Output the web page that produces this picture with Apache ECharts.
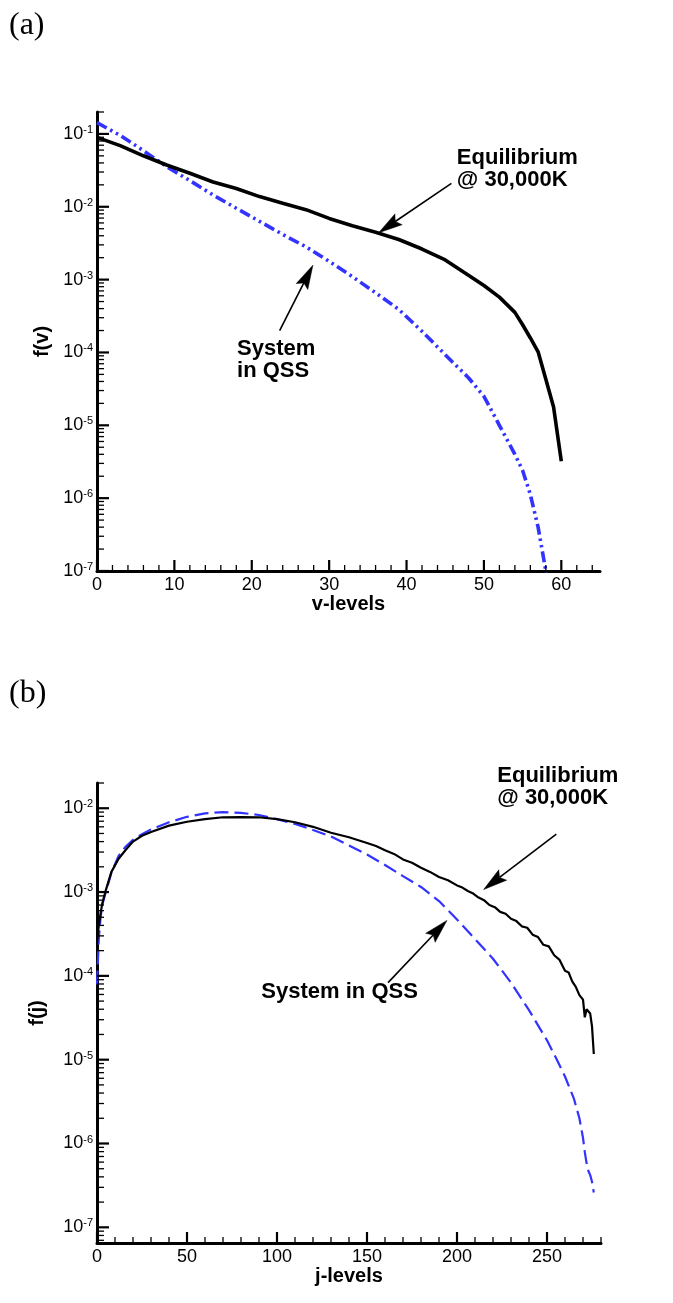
<!DOCTYPE html>
<html lang="en">
<head>
  <meta charset="UTF-8">
  <title>f(v) and f(j) distributions</title>
  <script src="https://cdn.jsdelivr.net/npm/echarts@6.0.0/dist/echarts.min.js"></script>
  <style type="text/css">
    html, body { margin: 0; padding: 0; background: #fff; }
    #main { width: 673px; height: 1303px; }
  </style>
</head>
<body>
  <div id="main"></div>

  <script type="text/javascript">
    // (a) vibrational levels
    var vLevels = [0, 3, 6, 9, 12, 15, 18, 21, 24, 27, 30, 33, 36, 39, 42, 45, 48, 50, 52, 54, 55, 56, 57, 58, 59, 60];
    var vEquil  = [0.0897, 0.0692, 0.0501, 0.0374, 0.0288, 0.0219, 0.0178, 0.0138, 0.0112, 0.00912, 0.00692, 0.0055, 0.00447,
                   0.00355, 0.00263, 0.00186, 0.00115, 8.3e-4, 5.75e-4, 3.55e-4, 2.4e-4, 1.58e-4, 1.02e-4, 4.3e-5, 1.78e-5, 3.2e-6];
    var vQSS    = [0.1426, 0.0955, 0.0589, 0.0355, 0.0229, 0.0145, 0.00955, 0.00631, 0.00417, 0.00282, 0.00178, 0.0011, 6.6e-4,
                   3.9e-4, 1.95e-4, 9.3e-5, 4.5e-5, 2.5e-5, 1.0e-5, 4.0e-6, 2.4e-6, 1.12e-6, 4.0e-7, 1.0e-7, 1.6e-8];

    // (b) rotational levels
    var jLevelsEq = [0, 1, 2, 3, 5, 8, 12, 16, 20, 25, 30, 40, 50, 60, 70, 80, 90, 100, 110, 120, 130, 140, 150, 155, 160, 165,
                     170, 175, 180, 185, 190, 195, 200, 203, 206, 209, 212, 215, 218, 221, 224, 227, 230, 233, 236, 239, 242,
                     245, 248, 251, 254, 257, 260, 262, 264, 266, 268, 270, 271, 272, 273, 274, 275, 276];
    var jEquil    = [2.4e-4, 4.0e-4, 5.6e-4, 7.4e-4, 1.07e-3, 1.74e-3, 2.5e-3, 3.2e-3, 4.0e-3, 4.7e-3, 5.2e-3, 6.2e-3, 6.9e-3,
                     7.4e-3, 7.8e-3, 7.85e-3, 7.8e-3, 7.4e-3, 6.8e-3, 6.0e-3, 5.1e-3, 4.5e-3, 3.85e-3, 3.55e-3, 3.15e-3, 2.85e-3,
                     2.45e-3, 2.24e-3, 1.95e-3, 1.74e-3, 1.51e-3, 1.38e-3, 1.2e-3, 1.13e-3, 1.03e-3, 9.6e-4, 8.6e-4, 8.0e-4,
                     7.0e-4, 6.6e-4, 5.8e-4, 5.5e-4, 4.8e-4, 4.5e-4, 3.9e-4, 3.75e-4, 3.1e-4, 2.9e-4, 2.35e-4, 2.25e-4, 1.76e-4,
                     1.55e-4, 1.15e-4, 1.1e-4, 8.6e-5, 7.4e-5, 5.9e-5, 5.2e-5, 3.2e-5, 4.0e-5, 3.8e-5, 3.55e-5, 2.5e-5, 1.17e-5];
    var jLevelsQSS = [0, 1, 2, 3, 5, 8, 12, 16, 20, 25, 30, 40, 50, 60, 70, 80, 90, 100, 110, 120, 130, 140, 150, 160, 170, 180,
                      190, 200, 210, 220, 230, 240, 250, 255, 260, 265, 268, 270, 271, 272, 273, 274, 275, 276];
    var jQSS       = [7.9e-5, 2.8e-4, 5.0e-4, 7.1e-4, 1.02e-3, 1.7e-3, 2.7e-3, 3.5e-3, 4.2e-3, 4.9e-3, 5.6e-3, 6.8e-3, 7.9e-3,
                      8.7e-3, 9.0e-3, 8.8e-3, 8.3e-3, 7.4e-3, 6.5e-3, 5.5e-3, 4.6e-3, 3.6e-3, 2.8e-3, 2.1e-3, 1.55e-3, 1.15e-3,
                      7.8e-4, 4.7e-4, 2.75e-4, 1.6e-4, 8.3e-5, 3.9e-5, 1.7e-5, 1.05e-5, 6.3e-6, 3.4e-6, 2.0e-6, 1.17e-6, 7.9e-7,
                      5.8e-7, 4.7e-7, 4.2e-7, 3.5e-7, 2.6e-7];

    // axis tick labels
    var vTickLabels = [0, 10, 20, 30, 40, 50, 60];
    var jTickLabels = [0, 50, 100, 150, 200, 250];

    // annotations (data coords)
    var notesA  = [['Equilibrium\n@ 30,000K', 46.5, 0.0332], ['System\nin QSS', 18.1, 7.8e-5]];
    var arrowsA = [[45.8, 0.0209, 36.4, 0.0044], [23.6, 2.0e-4, 27.9, 1.58e-3]];
    var notesB  = [['Equilibrium\n@ 30,000K', 222.4, 0.0178], ['System in QSS', 91.3, 6.5e-5]];
    var arrowsB = [[255.2, 4.92e-3, 214.8, 1.07e-3], [161.7, 8.3e-5, 194.4, 4.59e-4]];

    var FONT = '"Liberation Sans", Arial, Helvetica, sans-serif';
    var BLUE = '#3333ff';

    function pairs(xs, ys) {
      var out = [];
      for (var i = 0; i < ys.length; i++) out.push([xs[i], ys[i]]);
      return out;
    }

    function powLabel(val) {
      var e = Math.log10(val);
      var r = Math.round(e);
      if (Math.abs(e - r) > 1e-6) return '';
      return '{b|10}{s|' + r + '}';
    }

    // tick marks: [x, y, length, dir]  dir 0 = x-axis tick, 1 = y-axis tick
    function buildTicks(xMin, xMax, xMajor, xMinor, yMin, yMax) {
      var t = [], v, n, k;
      for (v = xMin; v <= xMax + 1e-9; v += xMinor) {
        var isMajor = Math.abs(v / xMajor - Math.round(v / xMajor)) < 1e-9;
        t.push([v, yMin, isMajor ? 11 : 6, 0]);
      }
      for (n = -9; n <= 0; n++) {
        for (k = 1; k <= 9; k++) {
          var y = k * Math.pow(10, n);
          if (y < yMin * 0.999 || y > yMax * 1.001) continue;
          t.push([xMin, y, k === 1 ? 12 : 7, 1]);
        }
      }
      return t;
    }

    function tickSeries(idx, data) {
      return {
        type: 'custom', xAxisIndex: idx, yAxisIndex: idx, silent: true, z: 5,
        data: data,
        renderItem: function (params, api) {
          var p = api.coord([api.value(0), api.value(1)]);
          var len = api.value(2);
          var p2 = api.value(3) === 0 ? [p[0], p[1] - len] : [p[0] + len, p[1]];
          return {
            type: 'line',
            shape: { x1: p[0], y1: p[1], x2: p2[0], y2: p2[1] },
            style: { stroke: '#000', lineWidth: len > 10 ? 2.2 : 1.3 }
          };
        }
      };
    }

    // annotation arrows: [xFrom, yFrom, xTo, yTo], head drawn at the "to" end
    function arrowSeries(idx, data) {
      return {
        type: 'custom', xAxisIndex: idx, yAxisIndex: idx, silent: true, z: 6,
        encode: { x: [0, 2], y: [1, 3] },
        data: data,
        renderItem: function (params, api) {
          var a = api.coord([api.value(0), api.value(1)]);
          var b = api.coord([api.value(2), api.value(3)]);
          var dx = b[0] - a[0], dy = b[1] - a[1];
          var L = Math.sqrt(dx * dx + dy * dy);
          var ux = dx / L, uy = dy / L, nx = -uy, ny = ux;
          var hl = 24, hw = 6.5, notch = 20;
          var base = [b[0] - ux * hl, b[1] - uy * hl];
          var mid = [b[0] - ux * notch, b[1] - uy * notch];
          return {
            type: 'group',
            children: [
              { type: 'line', shape: { x1: a[0], y1: a[1], x2: mid[0], y2: mid[1] },
                style: { stroke: '#000', lineWidth: 1.6 } },
              { type: 'polygon',
                shape: { points: [b, [base[0] + nx * hw, base[1] + ny * hw], mid, [base[0] - nx * hw, base[1] - ny * hw]] },
                style: { fill: '#000', stroke: '#000', lineWidth: 0.5 } }
            ]
          };
        }
      };
    }

    function xAxisCfg(idx, max, labels, name) {
      return {
        type: 'value', gridIndex: idx, min: 0, max: max, interval: labels[1] - labels[0],
        name: name, nameLocation: 'middle', nameGap: 21,
        nameTextStyle: { fontFamily: FONT, fontSize: 20, fontWeight: 'bold', color: '#000' },
        axisLine: { show: true, onZero: false, lineStyle: { color: '#000', width: 3 } },
        axisTick: { show: false }, splitLine: { show: false },
        axisLabel: {
          margin: 5, color: '#000', fontFamily: FONT, fontSize: 18,
          formatter: function (v) { return labels.indexOf(v) >= 0 ? String(v) : ''; }
        }
      };
    }

    function yAxisCfg(idx, min, max, name, gap) {
      return {
        type: 'log', logBase: 10, gridIndex: idx, min: min, max: max,
        name: name, nameLocation: 'middle', nameGap: gap,
        nameTextStyle: { fontFamily: FONT, fontSize: 20, fontWeight: 'bold', color: '#000' },
        axisLine: { show: true, lineStyle: { color: '#000', width: 3 } },
        axisTick: { show: false }, splitLine: { show: false },
        axisLabel: {
          margin: 4, color: '#000', formatter: powLabel,
          rich: {
            b: { fontFamily: FONT, fontSize: 18, lineHeight: 19, color: '#000' },
            s: { fontFamily: FONT, fontSize: 11, lineHeight: 11, verticalAlign: 'top', color: '#000' }
          }
        }
      };
    }

    var myChart = echarts.init(document.getElementById('main'));

    var option = {
      backgroundColor: '#fff',
      animation: false,
      grid: [
        { left: 97, top: 112, width: 503, height: 459 },
        { left: 97, top: 783, width: 504, height: 460 }
      ],
      xAxis: [
        xAxisCfg(0, 65, vTickLabels, 'v-levels'),
        xAxisCfg(1, 280, jTickLabels, 'j-levels')
      ],
      yAxis: [
        yAxisCfg(0, 1e-7, 0.2, 'f(v)', 44),
        yAxisCfg(1, 6.5e-8, 0.02, 'f(j)', 50)
      ],
      series: [
        {
          name: 'Equilibrium', type: 'line', xAxisIndex: 0, yAxisIndex: 0,
          data: pairs(vLevels, vEquil), showSymbol: false, clip: true, z: 3,
          lineStyle: { color: '#000', width: 3.6 }
        },
        {
          name: 'System in QSS', type: 'line', xAxisIndex: 0, yAxisIndex: 0,
          data: pairs(vLevels, vQSS), showSymbol: false, clip: true, z: 2,
          lineStyle: { color: BLUE, width: 3.6, type: [11, 4, 2.5, 4, 2.5, 4] }
        },
        {
          name: 'Equilibrium', type: 'line', xAxisIndex: 1, yAxisIndex: 1,
          data: pairs(jLevelsEq, jEquil), showSymbol: false, clip: true, z: 3,
          lineStyle: { color: '#000', width: 2.2 }
        },
        {
          name: 'System in QSS', type: 'line', xAxisIndex: 1, yAxisIndex: 1,
          data: pairs(jLevelsQSS, jQSS), showSymbol: false, clip: true, z: 2,
          lineStyle: { color: BLUE, width: 2.2, type: [14, 6] }
        },
        tickSeries(0, buildTicks(0, 65, 10, 2, 1e-7, 0.2)),
        tickSeries(1, buildTicks(0, 280, 50, 10, 6.5e-8, 0.02)),
        arrowSeries(0, arrowsA),
        arrowSeries(1, arrowsB)
      ]
    };

    myChart.setOption(option);

    // text annotations and panel letters
    var graphics = [
      { type: 'text', left: 9, top: 10, style: { text: '(a)', fontFamily: '"Liberation Serif", "Times New Roman", serif', fontSize: 32, fill: '#000' } },
      { type: 'text', left: 9, top: 678, style: { text: '(b)', fontFamily: '"Liberation Serif", "Times New Roman", serif', fontSize: 32, fill: '#000' } }
    ];
    function addNotes(notes, gridIndex) {
      for (var i = 0; i < notes.length; i++) {
        var p = myChart.convertToPixel({ gridIndex: gridIndex }, [notes[i][1], notes[i][2]]);
        graphics.push({
          type: 'text', x: p[0], y: p[1], silent: true,
          style: {
            text: notes[i][0], fontFamily: FONT, fontSize: 22, fontWeight: 'bold', lineHeight: 22,
            fill: '#000', align: 'left', verticalAlign: 'middle'
          }
        });
      }
    }
    addNotes(notesA, 0);
    addNotes(notesB, 1);
    myChart.setOption({ graphic: graphics });
  </script>
</body>
</html>
